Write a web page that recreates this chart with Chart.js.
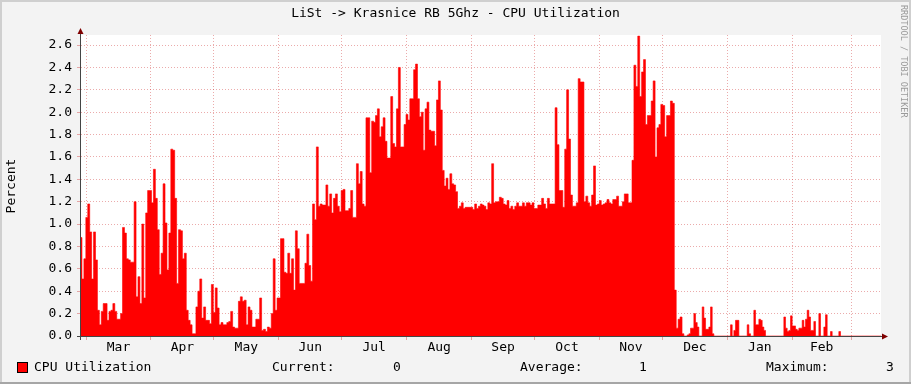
<!DOCTYPE html>
<html>
<head>
<meta charset="utf-8">
<title>CPU Utilization</title>
<script src="https://cdn.jsdelivr.net/npm/chart.js@4/dist/chart.umd.min.js"></script>
<style>
  html, body { margin: 0; padding: 0; background: #f3f3f3; }
  canvas { display: block; }
</style>
</head>
<body>
<canvas id="cpuChart" width="911" height="384"></canvas>
<script>
// x axis is counted in days from Mar 1
const monthNames = ['Mar', 'Apr', 'May', 'Jun', 'Jul', 'Aug', 'Sep', 'Oct', 'Nov', 'Dec', 'Jan', 'Feb'];
const monthStarts = [0, 31, 61, 92, 122, 153, 184, 214, 245, 275, 306, 337, 365];

// the samples were read in four stretches, each spread evenly between these days
const segStart = [-2.39, 93.99, 189.42, 284.85];
const segEnd = [91.61, 188.62, 283.89, 379.46];

const cpuSeg1 = [
  0.88, 0.51, 0.69, 1.06, 1.18, 0.93, 0.51, 0.93, 0.68, 0.23,
  0.10, 0.22, 0.29, 0.29, 0.14, 0.22, 0.23, 0.29, 0.22, 0.15,
  0.15, 0.20, 0.97, 0.92, 0.69, 0.68, 0.66, 0.66, 1.20, 0.35,
  0.53, 0.29, 1.00, 0.34, 1.10, 1.30, 1.30, 1.19, 1.49, 1.23,
  0.95, 0.55, 0.74, 1.36, 1.01, 0.59, 0.92, 1.67, 1.66, 1.23,
  0.47, 0.95, 0.94, 0.69, 0.74, 0.23, 0.14, 0.10, 0.02, 0.02,
  0.26, 0.40, 0.51, 0.16, 0.26, 0.14, 0.14, 0.11, 0.46, 0.21,
  0.43, 0.25, 0.10, 0.12, 0.10, 0.10, 0.12, 0.13, 0.22, 0.08,
  0.07, 0.07, 0.31, 0.35, 0.31, 0.32, 0.10, 0.26, 0.23, 0.08,
  0.08, 0.15, 0.15, 0.34, 0.05, 0.06, 0.04, 0.08, 0.07, 0.20,
  0.69, 0.23, 0.34
];
const cpuSeg2 = [
  0.87, 0.57, 0.56, 0.74, 0.56, 0.69, 0.41, 0.94, 0.78, 0.47,
  0.47, 0.47, 0.65, 0.91, 0.63, 0.49, 1.18, 1.04, 1.69, 1.16,
  1.18, 1.17, 1.17, 1.35, 1.16, 1.27, 1.10, 1.23, 1.27, 1.16,
  1.11, 1.30, 1.31, 1.12, 1.12, 1.14, 1.30, 1.06, 1.06, 1.54,
  1.36, 1.47, 1.18, 1.16, 1.95, 1.95, 1.46, 1.92, 1.91, 1.97,
  2.03, 1.78, 1.87, 1.95, 1.74, 1.59, 1.59, 2.14, 1.72, 1.69,
  2.03, 2.40, 1.69, 1.69, 1.89, 1.98, 1.93, 2.12, 2.12, 2.38,
  2.43, 2.12, 1.96, 2.00, 1.66, 2.03, 2.09, 1.84, 1.83, 1.83,
  1.70, 2.11, 2.28, 2.02, 1.48, 1.34, 1.41, 1.31, 1.45, 1.36,
  1.35, 1.29, 1.14, 1.16, 1.19, 1.14, 1.15, 1.15, 1.15, 1.15,
  1.13, 1.18, 1.14, 1.16, 1.18
];
const cpuSeg3 = [
  1.17, 1.16, 1.13, 1.19, 1.18, 1.54, 1.19, 1.20, 1.20, 1.24,
  1.23, 1.18, 1.17, 1.21, 1.14, 1.16, 1.13, 1.16, 1.19, 1.16,
  1.16, 1.19, 1.16, 1.19, 1.19, 1.17, 1.19, 1.14, 1.14, 1.17,
  1.17, 1.23, 1.18, 1.14, 1.23, 1.18, 1.18, 1.18, 2.04, 1.71,
  1.30, 1.30, 1.15, 1.67, 2.20, 1.76, 1.26, 1.16, 1.16, 1.19,
  2.30, 2.27, 2.27, 1.20, 1.25, 1.19, 1.16, 1.26, 1.52, 1.17,
  1.18, 1.21, 1.17, 1.18, 1.19, 1.22, 1.19, 1.18, 1.22, 1.22,
  1.25, 1.16, 1.16, 1.20, 1.27, 1.27, 1.19, 1.19, 1.57, 2.42,
  2.23, 2.68, 2.14, 2.36, 2.47, 1.89, 1.97, 1.97, 2.10, 2.28,
  1.60, 1.86, 1.89, 2.07, 2.06, 1.78, 1.97, 1.97, 2.10, 2.08,
  0.41, 0.07, 0.15, 0.17
];
const cpuSeg4 = [
  0.02, 0, 0, 0.01, 0.02, 0.07, 0.07, 0.20, 0.12, 0.08,
  0, 0, 0.26, 0.16, 0.06, 0.06, 0.08, 0.26, 0.02, 0,
  0, 0, 0, 0, 0, 0, 0, 0, 0, 0.10,
  0, 0.05, 0.14, 0.14, 0, 0, 0, 0, 0, 0.10,
  0.02, 0, 0, 0.23, 0.10, 0.10, 0.15, 0.14, 0.08, 0.05,
  0, 0, 0, 0, 0, 0, 0, 0, 0, 0,
  0, 0.17, 0.07, 0.04, 0.05, 0.18, 0.09, 0.09, 0.06, 0.05,
  0.07, 0.07, 0.14, 0.08, 0.15, 0.23, 0.17, 0.05, 0.05, 0.13,
  0, 0, 0.20, 0, 0, 0.08, 0.19, 0, 0, 0.04,
  0, 0, 0, 0, 0.04, 0, 0, 0, 0, 0,
  0, 0, 0, 0, 0, 0, 0, 0, 0, 0,
  0, 0, 0, 0, 0, 0, 0, 0, 0, 0
];

const legendStats = [['Current:', '0'], ['Average:', '1'], ['Maximum:', '3']];

const MONO = "'DejaVu Sans Mono', monospace";
const majorGrid = 'rgba(205, 45, 45, 0.4)';
const minorGrid = 'rgba(120, 95, 95, 0.33)';

const points = [];
[cpuSeg1, cpuSeg2, cpuSeg3, cpuSeg4].forEach((seg, i) => {
  const step = (segEnd[i] - segStart[i]) / (seg.length - 1);
  seg.forEach((v, j) => points.push({ x: segStart[i] + j * step, y: v }));
});

const monthMids = monthNames.map((m, i) => (monthStarts[i] + monthStarts[i + 1]) / 2);

// background, frame, axes with arrows and all the rrdtool style texts
const rrdLook = {
  id: 'rrdLook',
  beforeDraw(chart) {
    const { ctx, chartArea: a, width, height } = chart;
    ctx.save();
    ctx.fillStyle = '#f3f3f3';
    ctx.fillRect(0, 0, width, height);
    ctx.fillStyle = '#ffffff';
    ctx.fillRect(a.left, a.top, a.right - a.left, a.bottom - a.top);
    ctx.fillStyle = '#cfcfcf';
    ctx.fillRect(0, 0, width, 2);
    ctx.fillRect(0, 0, 2, height);
    ctx.fillRect(width - 2, 0, 2, height);
    ctx.fillStyle = '#a6a6a6';
    ctx.fillRect(0, height - 2, width, 2);
    ctx.restore();
  },
  afterDraw(chart) {
    const { ctx, chartArea: a } = chart;
    ctx.save();

    // axes
    ctx.strokeStyle = '#454545';
    ctx.lineWidth = 1;
    ctx.beginPath();
    ctx.moveTo(a.left - 0.5, a.bottom + 4);
    ctx.lineTo(a.left - 0.5, a.top - 3);
    ctx.moveTo(a.left - 4, a.bottom + 0.5);
    ctx.lineTo(a.right + 2, a.bottom + 0.5);
    ctx.stroke();
    ctx.fillStyle = '#7f0000';
    ctx.beginPath();
    ctx.moveTo(a.left - 3.5, a.top - 1);
    ctx.lineTo(a.left + 2.5, a.top - 1);
    ctx.lineTo(a.left - 0.5, a.top - 7);
    ctx.closePath();
    ctx.fill();
    ctx.beginPath();
    ctx.moveTo(a.right + 1, a.bottom - 2.5);
    ctx.lineTo(a.right + 1, a.bottom + 3.5);
    ctx.lineTo(a.right + 7, a.bottom + 0.5);
    ctx.closePath();
    ctx.fill();

    ctx.fillStyle = '#000';
    ctx.font = '13px ' + MONO;
    ctx.textBaseline = 'middle';

    // title
    ctx.textAlign = 'center';
    ctx.fillText('LiSt -> Krasnice RB 5Ghz - CPU Utilization', 455.5, 14);

    // y axis title
    ctx.save();
    ctx.translate(12, 186);
    ctx.rotate(-Math.PI / 2);
    ctx.fillText('Percent', 0, 0);
    ctx.restore();

    // legend
    ctx.fillStyle = '#ff0000';
    ctx.fillRect(17, 362, 11, 11);
    ctx.strokeStyle = '#000';
    ctx.strokeRect(17.5, 362.5, 10, 10);
    ctx.fillStyle = '#000';
    ctx.textAlign = 'left';
    ctx.fillText('CPU Utilization', 34, 368);
    const statX = [[272, 393], [520, 639], [766, 886]];
    legendStats.forEach((s, i) => {
      ctx.fillText(s[0], statX[i][0], 368);
      ctx.fillText(s[1], statX[i][1], 368);
    });

    // watermark
    ctx.save();
    ctx.translate(903, 5);
    ctx.rotate(Math.PI / 2);
    ctx.fillStyle = '#9a9a9a';
    ctx.font = '8.5px ' + MONO;
    ctx.textAlign = 'left';
    ctx.fillText('RRDTOOL / TOBI OETIKER', 0, 0);
    ctx.restore();

    ctx.restore();
  }
};

const ctx = document.getElementById('cpuChart').getContext('2d');
new Chart(ctx, {
  type: 'line',
  data: {
    datasets: [{
      label: 'CPU Utilization',
      data: points,
      fill: 'origin',
      stepped: 'middle',
      backgroundColor: '#ff0000',
      borderColor: '#ff0000',
      borderWidth: 0.6,
      pointRadius: 0
    }]
  },
  options: {
    responsive: false,
    animation: false,
    layout: { padding: { top: 35, right: 30, bottom: 0, left: 0 } },
    plugins: { legend: { display: false }, tooltip: { enabled: false } },
    scales: {
      x: {
        type: 'linear',
        min: -2.39,
        max: 379.3,
        z: 1,
        afterFit: s => { s.height = 48; },
        afterBuildTicks: s => {
          const t = [];
          monthStarts.forEach((d, i) => {
            t.push({ value: d });
            if (i < monthMids.length) t.push({ value: monthMids[i] });
          });
          s.ticks = t;
        },
        ticks: {
          autoSkip: false,
          maxRotation: 0,
          padding: 0,
          color: '#000',
          font: { family: MONO, size: 13 },
          callback: v => {
            const i = monthMids.indexOf(v);
            return i >= 0 ? monthNames[i] : '';
          }
        },
        grid: {
          color: c => monthStarts.includes(c.tick.value) ? majorGrid : 'transparent',
          tickLength: 4
        },
        border: { display: false, dash: [1, 2] }
      },
      y: {
        min: 0,
        max: 2.69,
        z: 1,
        afterFit: s => { s.width = 81; },
        afterBuildTicks: s => {
          s.ticks = Array.from({ length: 27 }, (_, i) => ({ value: i / 10 }));
        },
        ticks: {
          padding: 5,
          color: '#000',
          font: { family: MONO, size: 13 },
          callback: v => Math.round(v * 10) % 2 === 0 ? v.toFixed(1) : ''
        },
        grid: {
          color: c => Math.round(c.tick.value * 10) % 2 === 0 ? majorGrid : minorGrid,
          tickLength: 4
        },
        border: { display: false, dash: [1, 2] }
      }
    }
  },
  plugins: [rrdLook]
});
</script>
</body>
</html>
